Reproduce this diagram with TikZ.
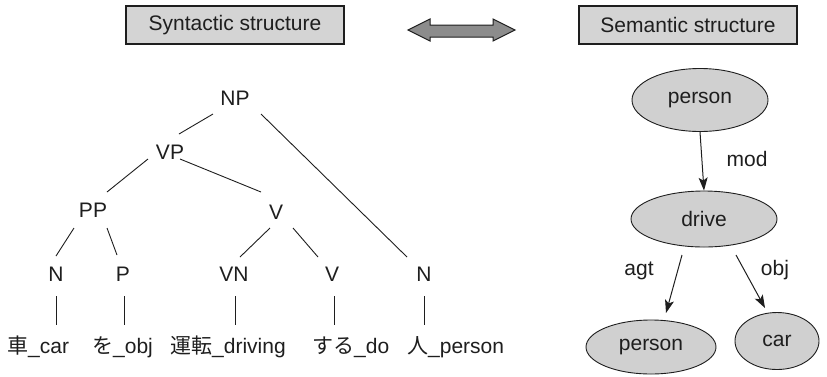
\documentclass[tikz,border=0pt]{standalone}
\usepackage{fontspec}
\setmainfont{Liberation Sans}
\newfontfamily\jpfont{Noto Sans CJK JP}
\usetikzlibrary{calc,shapes.geometric,arrows.meta}

\definecolor{ink}{HTML}{1E1E1E}
\definecolor{boxfill}{HTML}{D4D4D4}
\definecolor{ovalfill}{HTML}{D0D0D0}
\definecolor{linkfill}{HTML}{8C8C8C}

\tikzset{
  every node/.style={font=\fontsize{21}{25}\selectfont, text=ink},
  titlebox/.style={draw=ink, fill=boxfill, line width=1.1pt,
    minimum width=218pt, minimum height=38pt, inner sep=0pt},
  cat/.style={inner sep=0pt, text height=15pt, text depth=0pt},
  word/.style={anchor=base, inner sep=0pt, text height=16pt, text depth=5pt},
  branch/.style={draw=ink, line width=0.9pt},
  concept/.style={ellipse, draw=ink, fill=ovalfill, line width=0.9pt, inner sep=0pt},
  relation/.style={draw=ink, line width=1pt, -{Stealth[length=13pt,width=9pt,inset=3pt]}},
}

\begin{document}
\begin{tikzpicture}[x=1pt, y=-1pt]
\useasboundingbox (0,0) rectangle (827,376);

% headings and the two-way link
\node[titlebox] (syn) at (235,25) {Syntactic structure};
\node[titlebox] (sem) at (688,25) {Semantic structure};
\draw[draw=ink, fill=linkfill, line width=1pt, line join=miter]
  (408,30) -- (430,19) -- (430,25) -- (493,25) -- (493,19) -- (515,30)
  -- (493,41) -- (493,37) -- (430,37) -- (430,41) -- cycle;

% phrase structure tree
\node[cat] (NP) at (235,98) {NP};
\node[cat] (VP) at (170,152) {VP};
\node[cat] (PP) at (93,210) {PP};
\node[cat] (V1) at (276,212) {V};
\node[cat] (N1) at (56,274) {N};
\node[cat] (P1) at (123,274) {P};
\node[cat] (VN) at (234,274) {VN};
\node[cat] (V2) at (332,274) {V};
\node[cat] (N2) at (424,274) {N};

\node[word, anchor=base west] (w1) at (7,353) {{\jpfont 車}\_car};
\node[word, anchor=base west] (w2) at (92,353) {{\jpfont を}\_obj};
\node[word, anchor=base west] (w3) at (170,353) {{\jpfont 運転}\_driving};
\node[word, anchor=base west] (w4) at (312,353) {{\jpfont する}\_do};
\node[word, anchor=base west] (w5) at (407,353) {{\jpfont 人}\_person};

\draw[branch] ($(NP)+(-22,16)$) -- ($(VP)+(9,-18)$);
\draw[branch] ($(NP)+(26,16)$) -- ($(N2)+(-17,-17)$);
\draw[branch] ($(VP)+(-22,7)$) -- ($(PP)+(14,-18)$);
\draw[branch] ($(VP)+(10,7)$) -- ($(V1)+(-15,-20)$);
\draw[branch] ($(PP)+(-19,18)$) -- ($(N1)+(0,-18)$);
\draw[branch] ($(PP)+(14,18)$) -- ($(P1)+(-6,-19)$);
\draw[branch] ($(V1)+(-6,16)$) -- ($(VN)+(6,-17)$);
\draw[branch] ($(V1)+(17,16)$) -- ($(V2)+(-14,-17)$);

\draw[branch] ($(N1)+(0,22)$) -- ($(N1 |- w1.north)+(0,-12)$);
\draw[branch] ($(P1)+(1,22)$) -- ($(P1 |- w2.north)+(1,-12)$);
\draw[branch] ($(VN)+(1,22)$) -- ($(VN |- w3.north)+(1,-12)$);
\draw[branch] ($(V2)+(2,22)$) -- ($(V2 |- w4.north)+(2,-12)$);
\draw[branch] ($(N2)+(0,22)$) -- ($(N2 |- w5.north)+(0,-12)$);

% semantic network
\node[concept, minimum width=136pt, minimum height=63pt] (pers1) at (700,100) {person};
\node[concept, minimum width=146pt, minimum height=56pt] (drive) at (704,219) {drive};
\node[concept, minimum width=130pt, minimum height=54pt] (pers2) at (651,347) {person};
\node[concept, minimum width=84pt, minimum height=57pt] (car) at (777,341) {car};

\draw[relation] (pers1.south) -- (drive.north);
\draw[relation] ($(drive)+(-22,36)$) -- ($(pers2)+(15,-34)$);
\draw[relation] ($(drive)+(32,36)$) -- ($(car)+(-12,-33)$);

\node (mod) at (747,159) {mod};
\node (agt) at (639,271) {agt};
\node (obj) at (775,270) {obj};
\end{tikzpicture}
\end{document}
